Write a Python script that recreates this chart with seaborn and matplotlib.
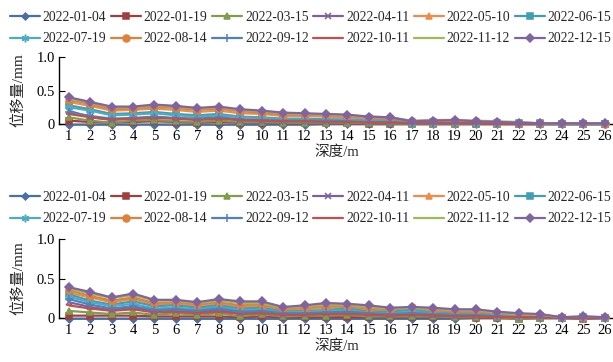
import matplotlib
matplotlib.use("Agg")
import matplotlib.pyplot as plt
import seaborn as sns
import numpy as np
import pandas as pd

depths = list(range(1, 27))
dates = ["2022-01-04", "2022-01-19", "2022-03-15", "2022-04-11", "2022-05-10", "2022-06-15",
         "2022-07-19", "2022-08-14", "2022-09-12", "2022-10-11", "2022-11-12", "2022-12-15"]

# top panel
t_0104 = [-0.01,-0.01,-0.01,-0.01,-0.01,-0.01,-0.01,-0.01,-0.01,-0.01,-0.01,-0.01,0,0,0,0,0,0,0,0,0,0,0,0,0,0]
t_0119 = [0.05,0.03,0.02,0.03,0.04,0.03,0.02,0.03,0.02,0.02,0.01,0.01,0.01,0.01,0,0,0,0,0,0,0,0,0,0,0,0]
t_0315 = [0.10,0.05,0.02,0.05,0.06,0.04,0.03,0.05,0.03,0.03,0.02,0.02,0.02,0.02,0.01,0.01,0,0,0,0,0,0,0,0,0,0]
t_0411 = [0.20,0.10,0.06,0.08,0.10,0.08,0.07,0.09,0.06,0.05,0.04,0.05,0.04,0.04,0.03,0.02,0.01,0.01,0.01,0.01,0.01,0,0,0,0,0]
t_0510 = [0.33,0.27,0.20,0.21,0.23,0.21,0.18,0.20,0.16,0.15,0.12,0.12,0.11,0.10,0.08,0.07,0.03,0.04,0.04,0.03,0.02,0.02,0.01,0.01,0,0]
t_0615 = [0.28,0.22,0.15,0.16,0.18,0.15,0.13,0.15,0.11,0.10,0.08,0.08,0.07,0.07,0.05,0.05,0.02,0.03,0.03,0.02,0.02,0.01,0.01,0,0,0]
t_0719 = [0.25,0.20,0.13,0.14,0.16,0.13,0.11,0.13,0.10,0.09,0.07,0.07,0.06,0.06,0.05,0.04,0.02,0.02,0.02,0.02,0.01,0.01,0,0,0,0]
t_0814 = [0.36,0.30,0.22,0.23,0.26,0.24,0.21,0.23,0.19,0.17,0.14,0.14,0.13,0.12,0.10,0.09,0.04,0.05,0.05,0.04,0.03,0.02,0.01,0.01,0.01,0]
t_0912 = [0.18,0.12,0.08,0.09,0.11,0.09,0.08,0.10,0.07,0.06,0.05,0.05,0.05,0.04,0.03,0.03,0.01,0.01,0.01,0.01,0.01,0,0,0,0,0]
t_1011 = [0.15,0.10,0.07,0.08,0.09,0.08,0.06,0.08,0.06,0.05,0.04,0.04,0.03,0.03,0.02,0.02,0.01,0.01,0.01,0.01,0,0,0,0,0,0]
t_1112 = [0.38,0.32,0.25,0.25,0.28,0.26,0.23,0.25,0.21,0.19,0.16,0.15,0.14,0.13,0.11,0.10,0.05,0.06,0.06,0.05,0.04,0.03,0.01,0.01,0.01,0.01]
t_1215 = [0.40,0.33,0.26,0.26,0.29,0.27,0.24,0.26,0.22,0.20,0.17,0.16,0.15,0.14,0.11,0.10,0.04,0.05,0.06,0.04,0.03,0.02,0.01,0.01,0.01,0.01]

# bottom panel
b_0104 = [-0.01,-0.01,-0.01,-0.01,-0.01,-0.01,-0.01,-0.01,-0.01,-0.01,-0.01,-0.01,-0.01,-0.01,-0.01,-0.01,-0.01,-0.01,-0.01,0,0,0,0,0,0,0]
b_0119 = [0.03,0.03,0.03,0.03,0.02,0.02,0.02,0.02,0.01,0.02,0.01,0.01,0.01,0.01,0.01,0.01,0.01,0.01,0.01,0,0,-0.01,0,0,-0.01,0]
b_0315 = [0.09,0.07,0.05,0.07,0.04,0.06,0.04,0.06,0.02,0.05,0.02,0.03,0.03,0.04,0.02,0.02,0.02,0.02,0.01,0.01,0.01,-0.01,0,0,0,0]
b_0411 = [0.20,0.14,0.10,0.13,0.08,0.09,0.07,0.10,0.06,0.07,0.04,0.05,0.06,0.07,0.05,0.04,0.05,0.04,0.03,0.03,0.02,0.01,0.01,0,0,0]
b_0510 = [0.32,0.26,0.20,0.24,0.17,0.18,0.15,0.18,0.14,0.15,0.10,0.11,0.13,0.13,0.10,0.09,0.12,0.09,0.07,0.07,0.05,0.03,0.03,0.01,0.01,0]
b_0615 = [0.30,0.22,0.17,0.21,0.15,0.16,0.13,0.16,0.12,0.13,0.08,0.09,0.10,0.12,0.08,0.08,0.10,0.07,0.06,0.06,0.04,0.03,0.02,0,0.01,0]
b_0719 = [0.27,0.20,0.15,0.18,0.12,0.13,0.11,0.14,0.10,0.11,0.07,0.08,0.09,0.10,0.07,0.06,0.08,0.06,0.05,0.05,0.03,0.02,0.02,0,0,0]
b_0814 = [0.35,0.28,0.22,0.26,0.19,0.20,0.17,0.20,0.16,0.17,0.11,0.13,0.15,0.15,0.12,0.10,0.14,0.10,0.08,0.08,0.06,0.04,0.04,0.01,0.01,0.01]
b_0912 = [0.24,0.17,0.12,0.15,0.10,0.11,0.09,0.12,0.08,0.09,0.06,0.06,0.07,0.08,0.06,0.05,0.06,0.05,0.04,0.04,0.02,0.01,0.01,0,0,0]
b_1011 = [0.16,0.12,0.09,0.11,0.07,0.08,0.06,0.08,0.05,0.06,0.04,0.04,0.05,0.05,0.04,0.03,0.04,0.03,0.02,0.02,0.01,0.01,0.01,0,0,0]
b_1112 = [0.37,0.31,0.25,0.29,0.22,0.22,0.19,0.22,0.19,0.19,0.13,0.15,0.17,0.17,0.14,0.12,0.13,0.12,0.10,0.10,0.07,0.05,0.04,0.01,0.02,0.01]
b_1215 = [0.39,0.33,0.26,0.31,0.23,0.23,0.20,0.24,0.21,0.21,0.14,0.16,0.19,0.18,0.16,0.13,0.14,0.13,0.11,0.11,0.08,0.06,0.05,0.01,0.02,0.01]

top_series = [t_0104, t_0119, t_0315, t_0411, t_0510, t_0615, t_0719, t_0814, t_0912, t_1011, t_1112, t_1215]
bot_series = [b_0104, b_0119, b_0315, b_0411, b_0510, b_0615, b_0719, b_0814, b_0912, b_1011, b_1112, b_1215]

y_ticks = [0, 0.5, 1.0]
y_ticklabels = ["0", "0.5", "1.0"]

colors = ["#4A6FA5", "#A0403E", "#819C4A", "#7D60A0", "#F08C4A", "#3F9DB5",
          "#4BACC6", "#E0803A", "#4F81BD", "#C0504D", "#9BBB59", "#8064A2"]
markers = ["D", "s", "^", "x", "^", "s", (6, 2, 0), "o", "+", "_", None, "D"]
msizes = [3.5, 5, 5, 4.5, 5, 5, 5.5, 5, 5.5, 4.5, 0, 4.5]

sns.set_theme(style="white")
plt.rcParams["font.family"] = ["Liberation Serif", "Noto Sans CJK SC"]
plt.rcParams["font.size"] = 10

W, H = 613, 362
fig = plt.figure(figsize=(W / 100, H / 100), dpi=100)

def px_axes(left, right, y0, y1):
    return [left / W, 1 - y0 / H, (right - left) / W, (y0 - y1) / H]

ax_top = fig.add_axes(px_axes(59, 615.4, 124, 57))
ax_bot = fig.add_axes(px_axes(59, 615.4, 318, 239))

order = []
for c in range(6):
    order += [c, c + 6]

for ax, series, leg_top in [(ax_top, top_series, 11), (ax_bot, bot_series, 191)]:
    for i, vals in enumerate(series):
        df = pd.DataFrame({"depth": depths, "value": vals})
        sns.lineplot(data=df, x="depth", y="value", ax=ax, color=colors[i],
                     marker=markers[i], markersize=msizes[i], linewidth=1.6,
                     markeredgecolor=colors[i], markeredgewidth=1.1,
                     label=dates[i], clip_on=False, zorder=2 + i)
    handles, labels = ax.get_legend_handles_labels()
    ax.get_legend().remove()
    fig.legend([handles[k] for k in order], [labels[k] for k in order], ncol=6,
               loc="upper left", bbox_to_anchor=(10 / W, 1 - leg_top / H), frameon=False,
               borderaxespad=0, borderpad=0, handlelength=2.2, handletextpad=0.2,
               columnspacing=0.35, labelspacing=0.62, fontsize=9.8)
    ax.set_xlim(0.55, 26.5)
    ax.set_ylim(0, 1.0)
    ax.set_xticks(depths)
    ax.set_xticklabels([str(d) for d in depths])
    ax.set_yticks(y_ticks)
    ax.set_yticklabels(y_ticklabels)
    for s in ["top", "right"]:
        ax.spines[s].set_visible(False)
    for s in ["left", "bottom"]:
        ax.spines[s].set_color("black")
        ax.spines[s].set_linewidth(1.0)
        ax.spines[s].set_zorder(1)
    ax.tick_params(axis="x", direction="inout", length=5, width=0.8, colors="black",
                   labelsize=10.5, pad=2, bottom=True)
    ax.tick_params(axis="y", direction="in", length=4, width=0.8, colors="black",
                   labelsize=10.5, pad=3, left=True)
    ax.set_xlabel("深度/m", fontsize=10.5, labelpad=1)
    ax.set_ylabel("位移量/mm", fontsize=11, labelpad=8)
    ax.patch.set_alpha(0)

fig.savefig("out.png", dpi=100)
